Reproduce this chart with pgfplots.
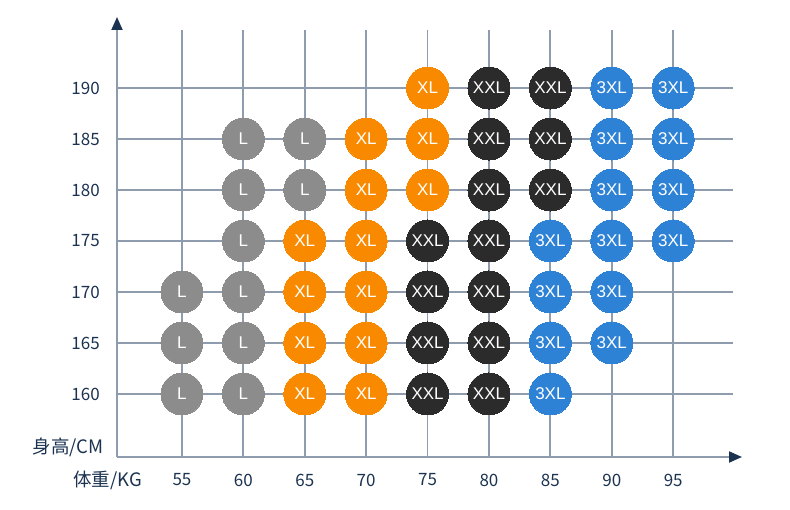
\documentclass[border=0pt]{standalone}
\usepackage{fontspec}
\setmainfont{Noto Sans CJK SC}
\newfontfamily\lab{Liberation Sans}
\usepackage{pgfplots}
\pgfplotsset{compat=1.18}
\usetikzlibrary{arrows.meta}
\definecolor{gridc}{HTML}{8E9CAD}
\definecolor{navy}{HTML}{1B3350}
\definecolor{cgray}{HTML}{8C8C8C}
\definecolor{corange}{HTML}{F98A00}
\definecolor{cblack}{HTML}{2B2B2B}
\definecolor{cblue}{HTML}{2D82D6}
\pgfplotsset{
  dot/.style 2 args={color=#1, only marks, mark=*, mark size=21bp,
    mark options={draw=#1, fill=#1, line width=0pt},
    nodes near coords={#2}, nodes near coords align={center},
    every node near coord/.append style={anchor=center, text=white, inner sep=0pt,
      font=\lab\fontsize{17bp}{17bp}\selectfont}}
}
\begin{document}
\begin{tikzpicture}
\useasboundingbox (-117bp,-53bp) rectangle (673bp,457bp);
\begin{axis}[
  scale only axis, width=616bp, height=427bp,
  anchor=south west, at={(0,0)},
  xmin=49.71, xmax=99.87, ymin=153.82, ymax=195.69,
  xtick={55,60,...,95}, ytick={160,165,...,190},
  grid=major, major grid style={gridc, line width=1.8bp},
  axis line style={draw=none}, major tick length=0pt,
  clip=false,
  /pgf/number format/assume math mode=true,
  tick label style={text=navy, font=\fontsize{17bp}{17bp}\selectfont, inner sep=0pt},
  xticklabel style={anchor=center, yshift=-23bp},
  yticklabel style={anchor=east, xshift=-17bp},
  xlabel={体重/KG}, ylabel={身高/CM},
  xlabel style={at={(axis description cs:0,0)}, anchor=center, xshift=-9.5bp, yshift=-23bp,
    text=navy, font=\fontsize{18.5bp}{18.5bp}\selectfont, inner sep=0pt},
  ylabel style={rotate=-90, at={(axis description cs:0,0)}, anchor=east, xshift=-13bp, yshift=10bp,
    text=navy, font=\fontsize{18.5bp}{18.5bp}\selectfont, inner sep=0pt},
]
\addplot[dot={cgray}{L}] table {
x y
55 170
55 165
55 160
60 185
60 180
60 175
60 170
60 165
60 160
65 185
65 180
};
\addplot[dot={corange}{XL}] table {
x y
65 175
65 170
65 165
65 160
70 185
70 180
70 175
70 170
70 165
70 160
75 190
75 185
75 180
};
\addplot[dot={cblack}{XXL}] table {
x y
75 175
75 170
75 165
75 160
80 190
80 185
80 180
80 175
80 170
80 165
80 160
85 190
85 185
85 180
};
\addplot[dot={cblue}{3XL}] table {
x y
85 175
85 170
85 165
85 160
90 190
90 185
90 180
90 175
90 170
90 165
95 190
95 185
95 180
95 175
};
\end{axis}
\draw[gridc, line width=1.8bp, -{Triangle[length=13bp,width=11bp,color=navy]}] (0,0) -- (625bp,0);
\draw[gridc, line width=1.8bp, -{Triangle[length=13bp,width=11bp,color=navy]}] (0,0) -- (0,440bp);
\end{tikzpicture}
\end{document}
